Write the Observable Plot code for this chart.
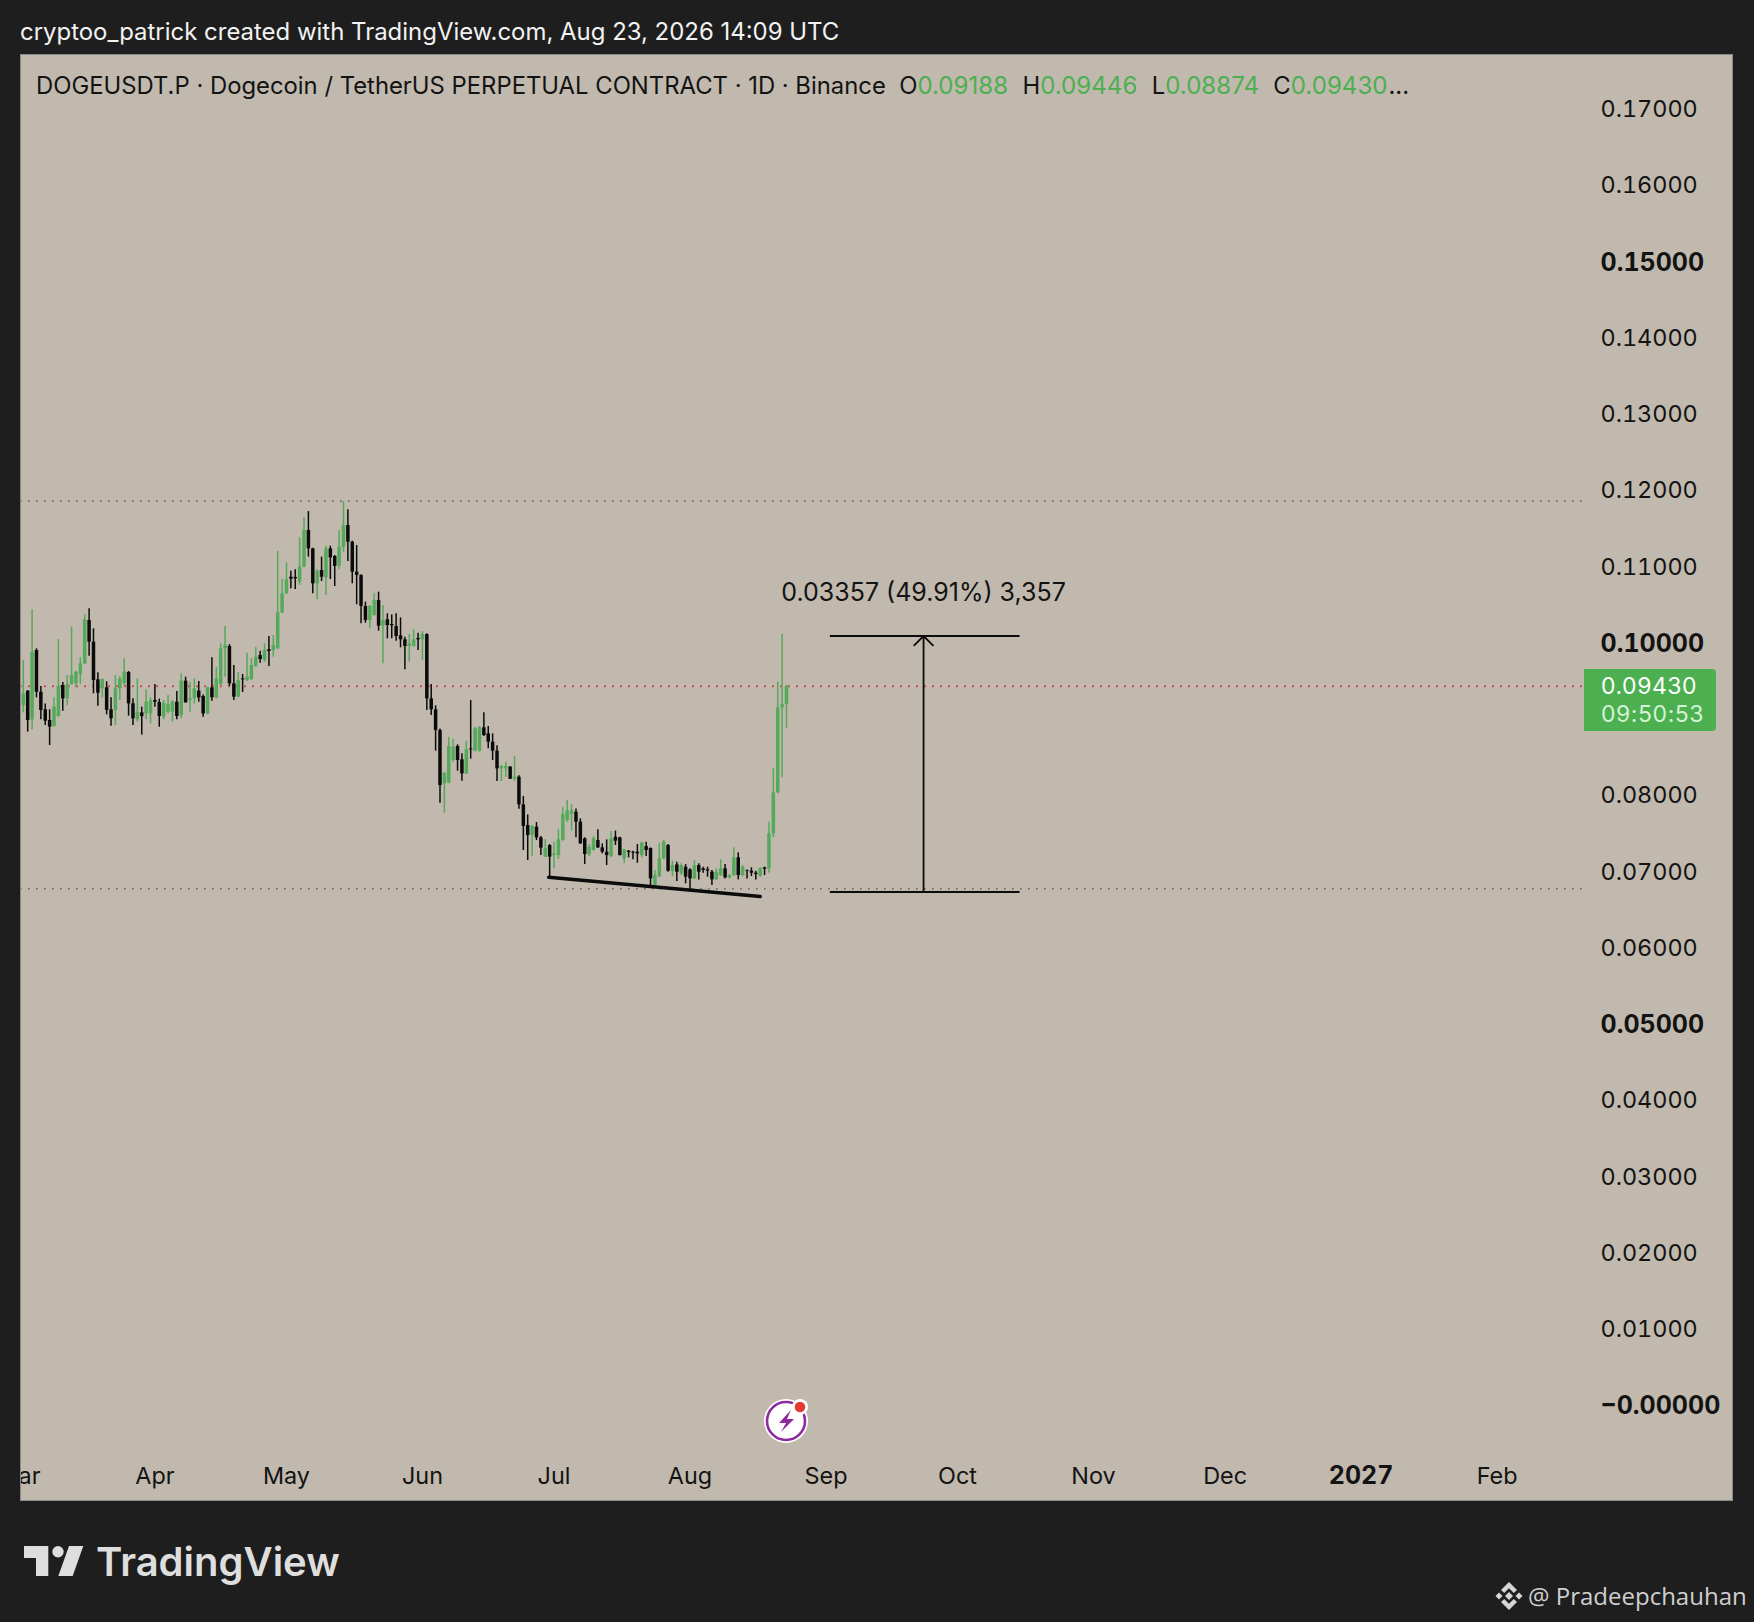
<!DOCTYPE html>
<html>
<head>
<meta charset="utf-8">
<script src="https://cdn.jsdelivr.net/npm/d3@7"></script>
<script src="https://cdn.jsdelivr.net/npm/@observablehq/plot@0.6"></script>
<style>
html,body{margin:0;padding:0;background:#1e1e1e;}
#page{position:relative;width:1754px;height:1622px;overflow:hidden;background:#1e1e1e;font-family:Inter,sans-serif;}
#head{position:absolute;left:20px;top:17px;color:#f2f2f2;font-size:23.95px;line-height:30px;white-space:nowrap;}
#chart{position:absolute;left:20px;top:54px;width:1713px;height:1447px;}
#chart svg{display:block;}
#frame{position:absolute;left:20px;top:54px;width:1713px;height:1447px;box-sizing:border-box;border:1px solid #8a8a8a;pointer-events:none;}
#legend{position:absolute;left:36px;top:71px;color:#131313;font-size:23.83px;line-height:30px;white-space:pre;}
#legend b{font-weight:400;color:#4caf50;font-size:24.1px;margin-right:1px;}
#tag{position:absolute;left:1584px;top:669px;width:132px;height:62px;background:#4caf50;border-radius:0 4px 4px 0;font-size:23px;letter-spacing:.55px;}
#tag div{position:absolute;left:17px;white-space:nowrap;line-height:28px;}
#brand{position:absolute;left:96px;top:1538px;color:#dedede;font-size:40px;font-weight:600;line-height:48px;}
#who{position:absolute;left:1528px;top:1579px;color:#cfcfcf;font-family:"Open Sans",sans-serif;font-size:24px;line-height:34px;white-space:nowrap;}
.ico{position:absolute;display:block;}
</style>
</head>
<body>
<div id="page">
  <div id="head">cryptoo_patrick created with TradingView.com, Aug 23, 2026 14:09 UTC</div>
  <div id="chart"></div>
  <div id="frame"></div>
  <div id="legend">DOGEUSDT.P · Dogecoin / TetherUS PERPETUAL CONTRACT · 1D · Binance  O<b>0.09188</b>  H<b>0.09446</b>  L<b>0.08874</b>  C<b>0.09430</b>...</div>
  <div id="tag"><div style="top:3px;color:#fff">0.09430</div><div style="top:31px;color:#d4f3d4">09:50:53</div></div>
  <svg class="ico" style="left:761px;top:1395px" width="52" height="52" viewBox="0 0 52 52">
    <circle cx="25" cy="26" r="22" fill="#fff"/>
    <circle cx="25" cy="26" r="19" fill="none" stroke="#8e2a9e" stroke-width="2.6"/>
    <path d="M30 15 L18 28 L25 28 L20 37 L33 24 L26 24 Z" fill="#8e2a9e"/>
    <circle cx="39" cy="12" r="8" fill="#fff"/>
    <circle cx="39" cy="12" r="5.3" fill="#e53935"/>
  </svg>
  <svg class="ico" style="left:20px;top:1540px" width="70" height="42" viewBox="20 1540 70 42">
    <path d="M24 1546H48.3V1576H36V1558H24Z M69 1546H83.3L72.7 1576H58.3Z" fill="#dedede"/>
    <circle cx="58" cy="1551.7" r="5.7" fill="#dedede"/>
  </svg>
  <div id="brand">TradingView</div>
  <svg class="ico" style="left:1494px;top:1581px" width="30" height="30" viewBox="0 0 30 30" fill="#d6d6d6">
    <path d="M15 1 L23 9 L19.8 12 L15 7.3 L10.2 12 L7 9 Z M15 29 L23 21 L19.8 18 L15 22.7 L10.2 18 L7 21 Z"/>
    <path d="M15 11 L19 15 L15 19 L11 15 Z M5 11.5 L8.5 15 L5 18.5 L1.5 15 Z M25 11.5 L28.5 15 L25 18.5 L21.5 15 Z"/>
  </svg>
  <div id="who">@ Pradeepchauhan</div>
</div>
<script>
// Daily candles from 2026-03-01, prices in 1/100000 USDT
const firstDay = Date.UTC(2026, 2, 1);
const opens = [
9384,9179,9367,8991,9900,9353,9122,8982,8903,9034,
9441,9266,9454,9463,9585,9725,10293,10009,9515,9397,
9410,9122,9113,9397,9471,9611,9200,8991,9082,9069,
9069,9244,9218,9026,9091,9091,9222,9047,9498,9244,
9266,9367,9297,9069,9410,9279,9454,9922,9952,9463,
9288,9528,9506,9520,9690,9834,9769,9909,9900,9922,
10394,10643,10861,10857,10796,10993,11473,11233,10774,10949,
10853,11233,11132,11006,11255,11539,11320,10927,10883,10477,
10293,10359,10555,10219,10302,10241,10215,10092,10040,9952,
9952,10057,10040,10109,9266,9122,8851,8151,8160,8457,
8641,8466,8282,8610,8580,8580,8886,8807,8698,8580,
8348,8348,8370,8212,8239,7876,7605,7474,7583,7443,
7190,7343,7211,7211,7408,7670,7749,7780,7649,7430,
7220,7277,7408,7312,7255,7198,7452,7443,7168,7268,
7255,7255,7211,7329,7303,6818,6936,7168,7343,7006,
7089,6971,7058,7023,6905,7080,7037,7023,6993,6892,
6949,7037,6919,6949,7181,6949,7015,7006,6980,6936,
7050,7037,7495,8033,9148,9188];
const highs = [
9419,9769,9375,10433,9922,9428,9200,9122,9279,10044,
9480,9572,10206,9629,9804,10372,10446,10184,9607,9528,
9489,9279,9572,9559,9791,9624,9266,9528,9157,9384,
9279,9454,9262,9244,9310,9244,9362,9594,9550,9485,
9528,9493,9318,9419,9804,9673,9987,10215,9978,9703,
9607,9585,9865,9791,9944,9891,9987,10083,10096,11198,
10835,11049,10940,10958,11377,11639,11722,11242,10958,11124,
11268,11268,11146,11473,11854,11744,11333,11277,10892,10534,
10490,10643,10665,10490,10381,10367,10381,10328,10075,10110,
10171,10127,10149,10118,9454,9174,8872,8300,8763,8737,
8663,8545,8711,9244,8890,8903,9082,8903,8807,8650,
8392,8435,8379,8510,8256,7985,7745,7605,7644,7461,
7421,7356,7386,7548,7837,7933,7876,7823,7692,7443,
7356,7461,7548,7365,7417,7531,7531,7452,7290,7277,
7268,7356,7386,7386,7312,7015,7373,7408,7356,7137,
7124,7102,7093,7037,7146,7102,7058,7058,7015,7037,
7155,7093,6962,7312,7246,7080,7023,7050,7006,7050,
7058,7649,8348,9484,10109,9446];
const lows = [
9157,9082,8829,8859,9279,8991,8916,8654,8894,9026,
9104,9174,9445,9410,9454,9716,9826,9332,9170,9279,
9056,8908,8916,9244,9441,9039,8916,8960,8790,8991,
8938,9157,8894,8991,9069,8960,8991,9004,9209,9091,
9200,9222,9026,9056,9235,9266,9441,9550,9428,9244,
9279,9349,9493,9506,9681,9734,9747,9690,9812,9913,
10381,10634,10708,10700,10752,10984,11124,10643,10564,10805,
10621,10831,10739,10958,11189,11067,10774,10499,10250,10258,
10184,10350,10153,9725,10053,10053,10022,9935,9646,9747,
9944,9900,9769,9113,9047,8580,7898,7767,8151,8435,
8317,8186,8274,8475,8570,8566,8772,8610,8457,8182,
8182,8239,8208,8186,7819,7277,7146,7198,7408,7211,
7185,6927,7037,7159,7399,7649,7531,7443,7356,7093,
7203,7268,7303,7233,7080,7181,7343,7205,7102,7181,
7155,7111,7181,7198,6818,6809,6919,7155,6993,6936,
6871,6949,6840,6761,6897,6892,6980,6927,6818,6884,
6936,6905,6905,6936,6892,6936,6905,6936,6892,6927,
6949,6980,7443,8020,8230,8874];
const closes = [
9200,9332,8982,9878,9353,9113,8973,8894,9157,9428,
9266,9454,9572,9616,9725,10302,10009,9506,9340,9520,
9113,9004,9397,9528,9616,9200,9004,9091,9034,9222,
9244,9222,9034,9209,9192,9222,9034,9498,9214,9266,
9397,9279,9069,9410,9279,9528,9922,9965,9463,9288,
9506,9515,9550,9703,9812,9782,9900,9887,9965,10394,
10643,10826,10835,10840,10993,11473,11233,10774,10940,10861,
11233,11115,11001,11255,11539,11320,10927,10883,10477,10293,
10477,10555,10219,10293,10228,10223,10083,10040,9952,9987,
10040,10040,10110,9266,9122,8851,8129,8291,8641,8632,
8457,8282,8597,8597,8872,8886,8785,8698,8580,8348,
8379,8379,8212,8239,7876,7592,7474,7592,7443,7308,
7299,7190,7233,7417,7749,7793,7801,7649,7365,7225,
7321,7430,7312,7255,7211,7430,7399,7211,7286,7251,
7242,7233,7373,7277,6905,6949,7168,7386,7006,7080,
6993,7080,6927,6905,7080,6993,7015,7006,6892,6993,
7037,6919,6949,7181,6949,7058,7006,6980,6962,7037,
7032,7495,8033,9148,9188,9430];

const priceTicks = [0.17,0.16,0.14,0.13,0.12,0.11,0.08,0.07,0.06,0.04,0.03,0.02,0.01];
const boldPriceTicks = [0.15,0.10,0.05,0];
const monthTicks = ["2026-03-01","2026-04-01","2026-05-01","2026-06-01","2026-07-01","2026-08-01","2026-09-01","2026-10-01","2026-11-01","2026-12-01","2027-02-01"].map(d => new Date(d));
const yearTicks = [new Date("2027-01-01")];

const supportLevel = 0.06775, resistanceLevel = 0.11858, lastPrice = 0.0943;
const trendPoints = [{t:new Date("2026-06-29T19:00Z"),p:0.06927},{t:new Date("2026-08-17T00:00Z"),p:0.06674}];
const rangeLow = 0.06733, rangeHigh = 0.10090;
const rangeStart = new Date("2026-09-02"), rangeEnd = new Date("2026-10-15T06:00Z"), rangeMid = new Date("2026-09-23T06:00Z");
const rangeLabel = "0.03357 (49.91%) 3,357", rangeLabelPrice = 0.1065;

const GREEN = "#55a95b", BLACK = "#0b0b0b";
const candles = opens.map((o,i) => ({
  t: new Date(firstDay + i*864e5), o: o/1e5, h: highs[i]/1e5, l: lows[i]/1e5, c: closes[i]/1e5,
  col: closes[i] >= o ? GREEN : BLACK
}));
const fmtP = d => d === 0 ? "\u22120.00000" : d.toFixed(5);
const axisFont = {fontSize: 23.4, tickSize: 0, label: null};
const boldFont = {fontSize: 25, tickSize: 0, label: null, fontWeight: 700};

const plot = Plot.plot({
  width: 1713, height: 1447,
  marginLeft: 0, marginRight: 150, marginTop: 0, marginBottom: 35,
  style: {background: "#c1b9ad", fontFamily: "Inter, sans-serif", color: "#131313", overflow: "hidden"},
  x: {type: "utc", domain: [new Date("2026-03-01T08:38Z"), new Date("2027-02-20T17:00Z")]},
  y: {domain: [-0.0080, 0.17715]},
  color: {type: "identity"},
  marks: [
    Plot.ruleY([resistanceLevel, supportLevel], {stroke: "#6f6a60", strokeWidth: 1.6, strokeDasharray: "1.6 6.4"}),
    Plot.ruleY([lastPrice], {stroke: "#cf4f55", strokeWidth: 2, strokeDasharray: "2 6"}),
    Plot.ruleX(candles, {x: "t", y1: "l", y2: "h", stroke: "col", strokeWidth: 1.5}),
    Plot.ruleX(candles, {x: "t", y1: "o", y2: "c", stroke: "col", strokeWidth: 3.5}),
    Plot.line(trendPoints, {x: "t", y: "p", stroke: "#0b0b0b", strokeWidth: 3.6}),
    Plot.ruleY([rangeLow, rangeHigh], {x1: rangeStart, x2: rangeEnd, stroke: "#0b0b0b", strokeWidth: 1.8}),
    Plot.arrow([0], {x1: rangeMid, x2: rangeMid, y1: rangeLow, y2: rangeHigh, stroke: "#0b0b0b", strokeWidth: 1.8, bend: 0, headLength: 11, headAngle: 90, inset: 0}),
    Plot.text([rangeLabel], {x: rangeMid, y: rangeLabelPrice, text: d => d, fontSize: 25, fill: "#131313"}),
    Plot.axisY({...axisFont, anchor: "right", ticks: priceTicks, tickPadding: 17, dy: 0.5, tickFormat: fmtP}),
    Plot.axisY({...boldFont, anchor: "right", ticks: boldPriceTicks, tickPadding: 17, dy: 1, tickFormat: fmtP}),
    Plot.axisX({...axisFont, anchor: "bottom", ticks: monthTicks, tickPadding: 1, tickFormat: d3.utcFormat("%b")}),
    Plot.axisX({...boldFont, anchor: "bottom", ticks: yearTicks, tickPadding: 0, tickFormat: d3.utcFormat("%Y")})
  ]
});
document.getElementById("chart").appendChild(plot);
</script>
</body>
</html>
